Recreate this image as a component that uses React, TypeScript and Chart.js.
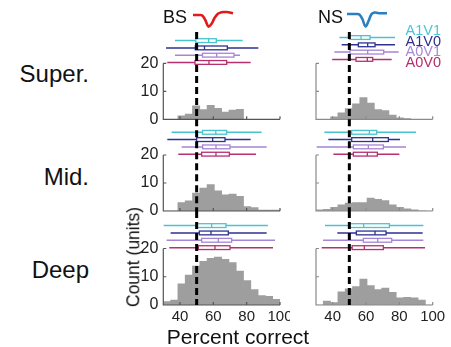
import React, { useEffect, useRef } from "react";
import { Chart, registerables } from "chart.js";

Chart.register(...registerables);

const FONT = '"Liberation Sans", Arial, Helvetica, sans-serif';

// ---------- data ----------
const binCenters = [32.188, 36.563, 40.938, 45.313, 49.688, 54.063, 58.438, 62.813, 67.188, 71.563, 75.938, 80.313, 84.688, 89.063, 93.438, 97.813];

const histSuperBS = [0, 0, 1.2, 1.9, 4.8, 3.5, 5.0, 3.9, 2.6, 3.3, 3.6, 0, 0, 0, 0, 0];
const histMidBS = [0, 0, 3.0, 3.6, 6.4, 8.2, 9.4, 7.2, 5.8, 6.0, 5.2, 1.6, 1.2, 0.3, 0.3, 0.3];
const histDeepBS = [1.2, 1.7, 7.5, 10.6, 13.8, 15.5, 16.5, 17.0, 16.2, 15.0, 12.0, 8.6, 5.5, 3.3, 3.1, 2.0];
const histSuperNS = [0, 0, 0.9, 2.3, 3.8, 5.5, 7.8, 5.8, 3.5, 3.1, 1.5, 0.5, 0.3, 0, 0, 0];
const histMidNS = [0.4, 0.6, 1.3, 2.2, 2.8, 3.0, 3.0, 4.6, 4.2, 3.7, 2.2, 1.3, 0.8, 0.4, 0.1, 0];
const histDeepNS = [0, 1.4, 0.9, 4.7, 5.7, 6.5, 9.2, 6.9, 5.5, 6.0, 4.5, 2.5, 2.7, 2.5, 1.7, 0];

const conditions = ["A1V1", "A1V0", "A0V1", "A0V0"];

// box stats per condition: [min, q1, median, q3, max]
const boxSuperBS = [
  [37, 49.5, 57.2, 61.8, 77.6],
  [31.6, 49.2, 54.7, 68.4, 87],
  [37, 53.5, 62, 72.4, 76],
  [32.4, 49, 57.4, 68, 82.4],
];
const boxSuperNS = [
  [44, 50, 57, 62.4, 77.4],
  [45.4, 55.4, 61, 65.4, 77.4],
  [41, 50.4, 61, 70.6, 79.6],
  [39.7, 54, 60.8, 64, 75.4],
];
const boxMidBS = [
  [35, 53.5, 61.5, 68, 89],
  [32.4, 50, 59.6, 67, 82.4],
  [41, 53.6, 61.6, 70, 92],
  [39, 53, 61.6, 69.6, 85.6],
];
const boxMidNS = [
  [35, 51.4, 62, 66.4, 90],
  [37.4, 51.4, 64, 73.4, 80.4],
  [30.4, 52.4, 61.4, 70.4, 84],
  [40.4, 52.4, 60.8, 66.8, 80],
];
const boxDeepBS = [
  [30.2, 50, 59, 67.6, 92.7],
  [34.4, 51.6, 58.6, 69, 92],
  [32, 53, 63, 71, 97],
  [33.6, 51, 61, 70, 95.8],
];
const boxDeepNS = [
  [35.4, 50.4, 58.6, 74, 94.4],
  [42.8, 54.2, 65.4, 72, 94],
  [34.2, 58.4, 67, 75.4, 94.4],
  [33.4, 51.7, 59, 70.4, 95.4],
];

const chanceLevel = 50;
const xTicks = [40, 60, 80, 100];
const yTicks = [0, 10, 20];

const bsWaveform = [0, 0, 0, -0.5, -5, -11.5, -9, -3, 1, 2.5, 3, 3, 2.5, 1.7];
const nsWaveform = [0, 0, 0, 0, -0.5, -5, -12.5, -7, 0, 1.5, 1, 0.7, 0.7, 0.7];

// ---------- styling / layout ----------
const COLORS = ["#47c4cf", "#2e3192", "#a585d6", "#b5306d"];
const LEGEND_COLORS = ["#4cc6d6", "#2d2f8a", "#a68bd6", "#b2306a"];
const BAR_COLOR = "#9e9e9e";
const ROW_LEVELS = [28.1, 25.5, 22.9, 20.3];

const COLS = [
  { left: 128, width: 162, padLeft: 0, padRight: 10, yAxisWidth: 35.3, showY: true, axisColor: "#555555" },
  { left: 300, width: 150, padLeft: 16, padRight: 17.3, yAxisWidth: 0, showY: false, axisColor: "#8a8a8a" },
];
const ROWS = [
  { top: 28, height: 96, padTop: 4, padBottom: 4.7, yMax: 31.18, showX: false },
  { top: 117, height: 98, padTop: 2.3, padBottom: 4, yMax: 32.75, showX: false },
  { top: 209, height: 123, padTop: 2, padBottom: 2, yMax: 33.27, showX: true },
];

type PanelProps = { hist: number[]; boxes: number[][]; col: number; row: number; shift: number };

function Panel({ hist, boxes, col, row, shift }: PanelProps) {
  const ref = useRef<HTMLCanvasElement>(null);
  const c = COLS[col];
  const r = ROWS[row];
  useEffect(() => {
    const canvas = ref.current!;
    const decor = {
      id: "panelDecor",
      afterDatasetsDraw(chart: any) {
        const { ctx, chartArea } = chart;
        const x = chart.scales.x;
        const y = chart.scales.y;
        ctx.save();
        // axes
        const x0 = x.getPixelForValue(30);
        const x1 = x.getPixelForValue(100);
        const y0 = y.getPixelForValue(0);
        const yTop = y.getPixelForValue(yTicks[yTicks.length - 1]);
        ctx.strokeStyle = c.axisColor;
        ctx.lineWidth = 1.2;
        ctx.beginPath();
        ctx.moveTo(x0, yTop);
        ctx.lineTo(x0, y0);
        ctx.lineTo(x1, y0);
        for (const v of yTicks) {
          const py = y.getPixelForValue(v);
          ctx.moveTo(x0, py);
          ctx.lineTo(x0 + 3, py);
        }
        for (const v of xTicks) {
          const px = x.getPixelForValue(v);
          ctx.moveTo(px, y0);
          ctx.lineTo(px, y0 - 3);
        }
        ctx.stroke();
        // box plots
        boxes.forEach((b, i) => {
          const py = y.getPixelForValue(ROW_LEVELS[i] + shift);
          const [mn, q1, md, q3, mx] = b.map((v) => x.getPixelForValue(v));
          const h = 1.9;
          ctx.strokeStyle = COLORS[i];
          ctx.lineWidth = 1.5;
          ctx.beginPath();
          ctx.moveTo(mn, py);
          ctx.lineTo(q1, py);
          ctx.moveTo(q3, py);
          ctx.lineTo(mx, py);
          ctx.stroke();
          ctx.fillStyle = "#ffffff";
          ctx.fillRect(q1, py - h, q3 - q1, 2 * h);
          ctx.lineWidth = 1.3;
          ctx.strokeRect(q1, py - h, q3 - q1, 2 * h);
          ctx.beginPath();
          ctx.moveTo(md, py - h);
          ctx.lineTo(md, py + h);
          ctx.stroke();
        });
        // chance line
        const xc = x.getPixelForValue(chanceLevel);
        ctx.strokeStyle = "#000000";
        ctx.lineWidth = 3;
        ctx.setLineDash([7, 4]);
        ctx.beginPath();
        ctx.moveTo(xc, chartArea.top);
        ctx.lineTo(xc, chartArea.bottom);
        ctx.stroke();
        ctx.restore();
      },
    };
    const chart = new Chart(canvas, {
      type: "bar",
      data: {
        datasets: [
          {
            data: binCenters.map((xv, i) => ({ x: xv, y: hist[i] })),
            backgroundColor: BAR_COLOR,
            borderWidth: 0,
            barPercentage: 1,
            categoryPercentage: 1,
          } as any,
        ],
      },
      options: {
        animation: false,
        responsive: false,
        events: [],
        layout: {
          autoPadding: false,
          padding: { left: c.padLeft, right: c.padRight, top: r.padTop, bottom: r.padBottom },
        },
        plugins: { legend: { display: false }, tooltip: { enabled: false } },
        scales: {
          x: {
            type: "linear",
            min: 30,
            max: 100,
            offset: false,
            display: r.showX,
            grid: { display: false, drawTicks: false },
            border: { display: false },
            afterBuildTicks: (s: any) => {
              s.ticks = xTicks.map((v) => ({ value: v }));
            },
            afterFit: (s: any) => {
              s.height = r.showX ? 25 : 0;
              s.paddingLeft = 0;
              s.paddingRight = 0;
            },
            ticks: {
              font: { family: FONT, size: 15 },
              color: "#222222",
              padding: 3,
              maxRotation: 0,
              autoSkip: false,
            },
          },
          y: {
            type: "linear",
            min: 0,
            max: r.yMax,
            display: c.showY,
            grid: { display: false, drawTicks: false },
            border: { display: false },
            afterBuildTicks: (s: any) => {
              s.ticks = yTicks.map((v) => ({ value: v }));
            },
            afterFit: (s: any) => {
              s.width = c.showY ? c.yAxisWidth : 0;
              s.paddingTop = 0;
              s.paddingBottom = 0;
            },
            ticks: {
              font: { family: FONT, size: 16 },
              color: "#222222",
              padding: 5,
              autoSkip: false,
            },
          },
        },
      } as any,
      plugins: [decor],
    });
    return () => chart.destroy();
  }, []);
  return (
    <canvas
      ref={ref}
      width={c.width}
      height={r.height}
      style={{ position: "absolute", left: c.left, top: r.top, width: c.width, height: r.height }}
    />
  );
}

function Wave({ values, color, left, top }: { values: number[]; color: string; left: number; top: number }) {
  const ref = useRef<HTMLCanvasElement>(null);
  useEffect(() => {
    const chart = new Chart(ref.current!, {
      type: "line",
      data: {
        labels: values.map((_, i) => String(i)),
        datasets: [
          {
            data: values,
            borderColor: color,
            borderWidth: 2.6,
            pointRadius: 0,
            tension: 0.4,
            fill: false,
            clip: false,
          } as any,
        ],
      },
      options: {
        animation: false,
        responsive: false,
        events: [],
        layout: { autoPadding: false, padding: { left: 3, right: 3, top: 2, bottom: 2 } },
        plugins: { legend: { display: false }, tooltip: { enabled: false } },
        scales: {
          x: { display: false, offset: false },
          y: { display: false, min: -15, max: 11 },
        },
      } as any,
    });
    return () => chart.destroy();
  }, []);
  return (
    <canvas ref={ref} width={46} height={30} style={{ position: "absolute", left, top, width: 46, height: 30 }} />
  );
}

function Label({ children, style }: { children: React.ReactNode; style: React.CSSProperties }) {
  return (
    <div
      style={{
        position: "absolute",
        fontFamily: FONT,
        lineHeight: 1,
        whiteSpace: "nowrap",
        color: "#111111",
        ...style,
      }}
    >
      {children}
    </div>
  );
}

export default function App() {
  return (
    <div
      style={{
        position: "absolute",
        left: 0,
        top: 0,
        width: 451,
        height: 347,
        overflow: "hidden",
        background: "#ffffff",
      }}
    >
      <Panel hist={histSuperBS} boxes={boxSuperBS} col={0} row={0} shift={0} />
      <Panel hist={histMidBS} boxes={boxMidBS} col={0} row={1} shift={0} />
      <Panel hist={histDeepBS} boxes={boxDeepBS} col={0} row={2} shift={0} />
      <Panel hist={histSuperNS} boxes={boxSuperNS} col={1} row={0} shift={1.1} />
      <Panel hist={histMidNS} boxes={boxMidNS} col={1} row={1} shift={0} />
      <Panel hist={histDeepNS} boxes={boxDeepNS} col={1} row={2} shift={0} />

      <Wave values={bsWaveform} color="#e3191c" left={190} top={2} />
      <Wave values={nsWaveform} color="#2a7fc0" left={344} top={1} />

      <Label style={{ left: 163, top: 7.5, fontSize: 18 }}>BS</Label>
      <Label style={{ left: 318, top: 7.5, fontSize: 18 }}>NS</Label>

      {conditions.map((name, i) => (
        <Label
          key={name}
          style={{ left: 405.5, top: [30.5, 41, 51.3, 62.3][i] - 7.25, fontSize: 14.5, color: LEGEND_COLORS[i] }}
        >
          {name}
        </Label>
      ))}

      <Label style={{ left: 0, width: 89, textAlign: "right", top: 62, fontSize: 24 }}>Super.</Label>
      <Label style={{ left: 0, width: 89, textAlign: "right", top: 165, fontSize: 24 }}>Mid.</Label>
      <Label style={{ left: 0, width: 89, textAlign: "right", top: 258, fontSize: 24 }}>Deep</Label>

      <Label
        style={{
          left: 134,
          top: 257,
          fontSize: 17.5,
          transform: "translate(-50%, -50%) rotate(-90deg)",
        }}
      >
        Count (units)
      </Label>
      <Label style={{ left: 238, top: 325.5, fontSize: 21, transform: "translateX(-50%)" }}>Percent correct</Label>
    </div>
  );
}
